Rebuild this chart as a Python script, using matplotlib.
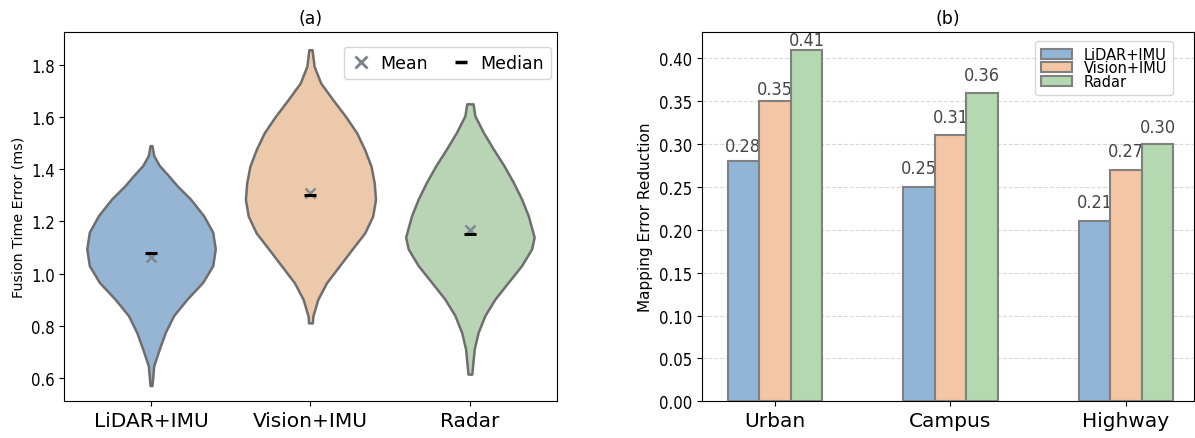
#%%
# imports
import numpy as np
import matplotlib
matplotlib.use("Agg")
import matplotlib.pyplot as plt
from matplotlib.lines import Line2D

#%%
# data (a): violin outlines, value -> half width
sensors = ["LiDAR+IMU", "Vision+IMU", "Radar"]

lidar_y = [1.490, 1.452, 1.414, 1.375, 1.337, 1.286, 1.222, 1.159, 1.095,
           1.031, 0.967, 0.903, 0.840, 0.776, 0.712, 0.648, 0.572]
lidar_w = [0.006, 0.017, 0.052, 0.110, 0.163, 0.247, 0.330, 0.387, 0.403,
           0.387, 0.324, 0.226, 0.142, 0.090, 0.052, 0.017, 0.006]

vision_y = [1.857, 1.793, 1.729, 1.666, 1.602, 1.539, 1.475, 1.411, 1.347,
            1.284, 1.220, 1.156, 1.093, 1.029, 0.965, 0.902, 0.838, 0.812]
vision_w = [0.010, 0.023, 0.065, 0.140, 0.220, 0.290, 0.340, 0.380, 0.400,
            0.408, 0.390, 0.340, 0.260, 0.180, 0.100, 0.046, 0.015, 0.012]

radar_y = [1.650, 1.605, 1.541, 1.478, 1.414, 1.350, 1.286, 1.222, 1.140,
           1.095, 1.031, 0.967, 0.903, 0.840, 0.776, 0.712, 0.616]
radar_w = [0.020, 0.031, 0.084, 0.146, 0.213, 0.272, 0.324, 0.366, 0.403,
           0.387, 0.324, 0.240, 0.157, 0.094, 0.052, 0.027, 0.012]

means = [1.065, 1.308, 1.168]
medians = [1.081, 1.303, 1.152]

# data (b)
scenarios = ["Urban", "Campus", "Highway"]
lidar_red = [0.28, 0.25, 0.21]
vision_red = [0.35, 0.31, 0.27]
radar_red = [0.41, 0.36, 0.30]

violin_colors = ["#96b4d3", "#ecc9aa", "#b9d4b5"]
bar_colors = ["#90b5d7", "#f4c6a3", "#b4d8b0"]
# label gap above each bar (points), per series, per scenario
label_pad = [[4.5, 7, 7], [2, 7, 7], [0.5, 6.5, 6]]

#%%
fig = plt.figure(figsize=(11.95, 4.39), dpi=100)
ax1 = fig.add_axes([0.0538, 0.0836, 0.412, 0.842])
ax2 = fig.add_axes([0.5874, 0.0836, 0.4117, 0.842])

#%%
# (a) violins
profiles = [(lidar_y, lidar_w), (vision_y, vision_w), (radar_y, radar_w)]
for i, (ys, ws) in enumerate(profiles):
    ys = np.array(ys)
    ws = np.array(ws)
    ax1.fill_betweenx(ys, i - ws, i + ws, facecolor=violin_colors[i],
                      edgecolor="#6e6e6e", linewidth=1.8, zorder=2)
    ax1.plot(i, medians[i], marker="_", color="black", ms=8, mew=2.2, zorder=4)
    ax1.plot(i, means[i], marker="x", color="#7b828c", ms=7, mew=1.8,
             alpha=0.9, zorder=3)

ax1.set_xlim(-0.544, 2.544)
ax1.set_ylim(0.512, 1.926)
ax1.set_xticks(range(3), sensors, fontsize=14.5)
ax1.set_yticks([0.6, 0.8, 1.0, 1.2, 1.4, 1.6, 1.8])
ax1.tick_params(axis="y", labelsize=12)
ax1.set_ylabel("Fusion Time Error (ms)", fontsize=10.3)
ax1.set_title("(a)", fontsize=12.5, pad=6)
handles = [Line2D([], [], ls="none", marker="x", color="#7b828c", ms=9, mew=2),
           Line2D([], [], ls="none", marker="_", color="black", ms=9, mew=2.5)]
ax1.legend(handles, ["Mean", "Median"], ncol=2, loc="upper right",
           bbox_to_anchor=(0.988, 0.9586), borderaxespad=0,
           fontsize=12.5, handlelength=1.15, handletextpad=0.55,
           columnspacing=1.3, borderpad=0.4)

#%%
# (b) grouped bars
x = np.arange(len(scenarios))
bw = 0.18
series = [lidar_red, vision_red, radar_red]
for k, vals in enumerate(series):
    bars = ax2.bar(x + (k - 1) * bw, vals, bw, color=bar_colors[k],
                   edgecolor="#808080", linewidth=1.5, label=sensors[k],
                   zorder=3)
    for rect, v, pad in zip(bars, vals, label_pad[k]):
        ax2.annotate(f"{v:.2f}", (rect.get_x() + rect.get_width() / 2, v),
                     xytext=(0, pad), textcoords="offset points",
                     ha="center", va="bottom", fontsize=13,
                     fontstretch="condensed", color="#454545")

ax2.set_xlim(-0.416, 2.387)
ax2.set_ylim(0, 0.431)
ax2.set_xticks(x, scenarios, fontsize=14.5)
ax2.set_yticks(np.arange(0, 0.41, 0.05))
ax2.tick_params(axis="y", labelsize=12)
ax2.yaxis.grid(True, ls="--", color="#d9d9d9", lw=0.8, zorder=0)
ax2.set_axisbelow(True)
ax2.set_ylabel("Mapping Error Reduction", fontsize=11)
ax2.set_title("(b)", fontsize=12.5, pad=6)
ax2.legend(loc="upper right", bbox_to_anchor=(0.957, 0.975), borderaxespad=0,
           fontsize=10.5, labelspacing=-0.1, handlelength=2.1,
           handletextpad=0.8, borderpad=0.4)

for ax in (ax1, ax2):
    for lbl in ax.get_yticklabels():
        lbl.set_fontstretch("condensed")

fig.savefig("out.png", dpi=100)
